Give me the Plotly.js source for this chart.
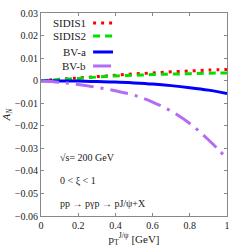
<!DOCTYPE html>
<html><head><meta charset="utf-8">
<script src="https://cdn.plot.ly/plotly-3.0.1.min.js"></script>
<style>body{margin:0;padding:0;background:#fff}#c{width:240px;height:251px}</style>
</head><body><div id="c"></div>
<script>
const xs = [0,0.1,0.2,0.3,0.4,0.5,0.6,0.7,0.8,0.9,1.0];
const sidis1 = [0,0.0006,0.0012,0.0018,0.0024,0.003,0.0034,0.0039,0.0043,0.0047,0.005];
const sidis2 = [0,0.0005,0.001,0.0016,0.0021,0.0024,0.0027,0.0029,0.0031,0.0033,0.0034];
const bva = [0,-0.0001,-0.0002,-0.0004,-0.0006,-0.001,-0.0015,-0.0022,-0.0031,-0.0042,-0.0057];
const bvb = [0,-0.0007,-0.0017,-0.003,-0.0045,-0.0064,-0.0095,-0.0135,-0.019,-0.0262,-0.0345];
const names = ["SIDIS1","SIDIS2","BV-a","BV-b"];
const colors = ["#ff0000","#00e000","#0000ff","#b56cf5"];
const dashes = ["3px,5px","7px,5px","solid","18px,7px,3px,7px"];
const series = [sidis1,sidis2,bva,bvb];
const xticks = [0,0.2,0.4,0.6,0.8,1];
const xtickText = ["0","0.2","0.4","0.6","0.8","1"];
const yticks = [-0.06,-0.05,-0.04,-0.03,-0.02,-0.01,0,0.01,0.02,0.03];
const ytickText = ["−0.06","−0.05","−0.04","−0.03","−0.02","−0.01","0","0.01","0.02","0.03"];

const F = "Liberation Serif";
const traces = series.map((s,i)=>({x:xs,y:s,type:"scatter",mode:"lines",name:names[i],
  line:{color:colors[i],width:3,dash:dashes[i],shape:"spline"},showlegend:false}));

const legY = [0.951,0.887,0.808,0.739];
const shapes = [], annotations = [];
names.forEach((n,i)=>{
  annotations.push({xref:"paper",yref:"paper",x:0.253,y:legY[i],text:n,showarrow:false,
    xanchor:"right",yanchor:"middle",font:{family:F,size:11,color:"#222"}});
  shapes.push({type:"line",xref:"paper",yref:"paper",x0:0.28,x1:0.387,y0:legY[i],y1:legY[i],
    line:{color:colors[i],width:3,dash:dashes[i]}});
});
const notes = [["√s= 200 GeV",0.286],["0 &lt; ξ &lt; 1",0.172],["pp → pγp → pJ/ψ+X",0.064]];
notes.forEach(n=>annotations.push({xref:"paper",yref:"paper",x:0.09,y:n[1],text:n[0],showarrow:false,
  xanchor:"left",yanchor:"middle",font:{family:F,size:10,color:"#222"}}));

const layout = {
  width:240,height:251,margin:{l:41,r:13,t:13,b:35},
  paper_bgcolor:"#fff",plot_bgcolor:"#fff",
  font:{family:F,size:10,color:"#222"},
  xaxis:{range:[0,1],tickvals:xticks,ticktext:xtickText,ticks:"inside",ticklen:3,tickcolor:"#888",
    showline:true,linecolor:"#888",linewidth:1,mirror:"ticks",showgrid:false,zeroline:false,
    tickfont:{family:F,size:10},
    title:{text:"p<sub>T</sub><sup>J/ψ</sup> [GeV]",font:{family:F,size:11},standoff:4}},
  yaxis:{range:[-0.06,0.03],tickvals:yticks,ticktext:ytickText,ticks:"inside",ticklen:3,tickcolor:"#888",
    showline:true,linecolor:"#888",linewidth:1,mirror:"ticks",showgrid:false,zeroline:false,
    tickfont:{family:F,size:10},
    title:{text:"<i>A</i><sub><i>N</i></sub>",font:{family:F,size:11},standoff:8}},
  shapes:shapes,annotations:annotations
};
Plotly.newPlot("c",traces,layout,{displayModeBar:false,staticPlot:true});
</script></body></html>
